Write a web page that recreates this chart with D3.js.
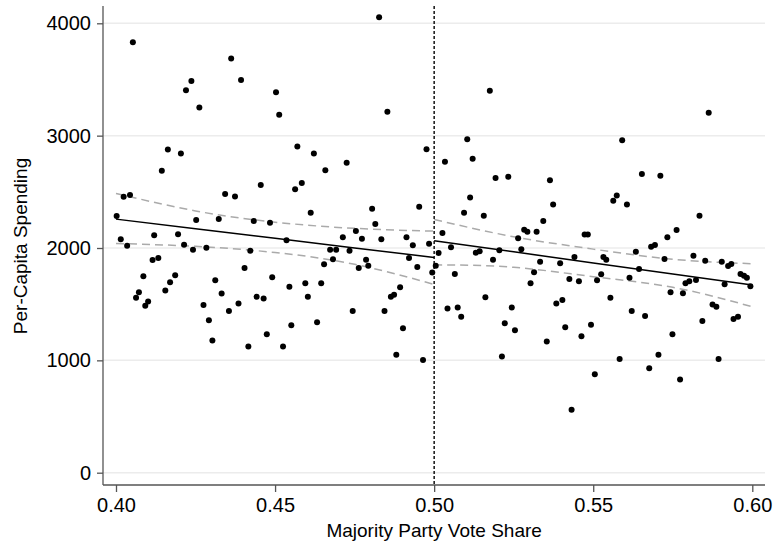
<html>
<head>
<meta charset="utf-8" />
<script src="https://cdn.jsdelivr.net/npm/d3@7/dist/d3.min.js"></script>
<style>
body { margin: 0; background: #fff; }
svg text { font-family: "Liberation Sans", Arial, Helvetica, sans-serif; fill: #000; }
</style>
</head>
<body>
<svg id="chart" width="776" height="546"></svg>
<script>

// vote share / per-capita spending, below the 0.50 cutoff
var leftShare = [0.4053,0.4237,0.4220,0.4262,0.4163,0.4204,0.4144,0.4024,0.4044,0.4002,0.4252,0.4015,0.4035,0.4120,0.4195,0.4214,0.4242,0.4284,0.4312,0.4115,0.4133,0.4086,0.4186,0.4170,0.4155,0.4072,0.4063,0.4101,0.4092,0.4275,0.4292,0.4303,
  0.4362,0.4393,0.4503,0.4513,0.4570,0.4622,0.4658,0.4455,0.4563,0.4584,0.4343,0.4374,0.4612,0.4323,0.4433,0.4484,0.4536,0.4422,0.4654,0.4404,0.4491,0.4545,0.4595,0.4645,0.4332,0.4603,0.4442,0.4464,0.4385,0.4355,0.4632,0.4551,0.4474,0.4416,0.4525,
  0.4827,0.4853,0.4976,0.4725,0.4805,0.4953,0.4815,0.4754,0.4713,0.4773,0.4834,0.4913,0.4933,0.4984,0.4673,0.4692,0.4734,0.4682,0.4786,0.4763,0.4793,0.4921,0.4947,0.4994,0.4893,0.4874,0.4864,0.4744,0.4844,0.4902,0.4881,0.4965];
var leftSpend = [3831,3487,3404,3250,2877,2841,2687,2456,2471,2284,2249,2077,2021,2113,2122,2030,1985,2003,1713,1893,1911,1748,1757,1695,1621,1606,1558,1523,1487,1493,1357,1176,
  3686,3496,3387,3185,2904,2841,2693,2560,2524,2578,2480,2459,2314,2258,2240,2225,2068,1976,1856,1822,1739,1656,1686,1686,1594,1567,1567,1550,1505,1440,1339,1313,1233,1123,1123,
  4053,3212,2880,2758,2350,2367,2213,2151,2095,2083,2077,2095,2024,2038,1985,1985,1976,1900,1896,1822,1843,1911,1831,1781,1650,1585,1567,1440,1440,1286,1049,1004];

// above the cutoff
var rightShare = [0.5005,0.5014,
  0.5175,0.5104,0.5121,0.5034,0.5193,0.5233,0.5113,0.5094,0.5156,0.5026,0.5343,0.5283,0.5293,0.5322,0.5264,0.5053,0.5131,0.5143,0.5205,0.5274,0.5185,0.5333,0.5314,0.5065,0.5303,0.5161,0.5042,0.5074,0.5085,0.5244,0.5222,0.5254,0.5213,0.5354,
  0.5591,0.5653,0.5364,0.5374,0.5563,0.5574,0.5606,0.5473,0.5483,0.5634,0.5682,0.5694,0.5441,0.5532,0.5541,0.5396,0.5644,0.5525,0.5425,0.5455,0.5512,0.5614,0.5554,0.5384,0.5403,0.5621,0.5663,0.5412,0.5493,0.5463,0.5583,0.5676,0.5505,0.5432,
  0.5863,0.5711,0.5834,0.5762,0.5733,0.5724,0.5815,0.5852,0.5904,0.5924,0.5934,0.5963,0.5974,0.5983,0.5994,0.5790,0.5802,0.5823,0.5913,0.5743,0.5782,0.5875,0.5887,0.5843,0.5941,0.5955,0.5749,0.5705,0.5894,0.5773];
var rightSpend = [1842,1955,
  3399,2969,2794,2767,2622,2634,2450,2314,2287,2133,2240,2163,2145,2145,2086,2006,1958,1970,1979,1988,1896,1877,1784,1769,1686,1561,1461,1470,1387,1470,1330,1268,1034,1167,
  2960,2658,2604,2388,2421,2468,2388,2121,2121,1967,2012,2026,1920,1920,1896,1864,1812,1766,1725,1704,1713,1736,1558,1505,1538,1440,1394,1295,1316,1215,1013,930,877,560,
  3203,2643,2287,2160,2095,1902,1932,1887,1878,1840,1857,1769,1754,1736,1659,1686,1704,1716,1677,1606,1597,1496,1476,1351,1369,1387,1233,1049,1013,830];

// fitted lines and 95% bands
var leftBandX  = [0.40, 0.425, 0.45, 0.475, 0.50];
var leftFit    = [2257, 2172, 2087, 2001, 1916];
var leftUpper  = [2486, 2330, 2230, 2175, 2150];
var leftLower  = [2040, 2015, 1960, 1855, 1676];
var rightBandX = [0.50, 0.525, 0.55, 0.575, 0.60];
var rightFit   = [2064, 1966, 1867, 1769, 1670];
var rightUpper = [2254, 2100, 1990, 1900, 1860];
var rightLower = [1850, 1828, 1745, 1650, 1477];

var xTicks = [0.40, 0.45, 0.50, 0.55, 0.60];
var yTicks = [0, 1000, 2000, 3000, 4000];
var cutoff = 0.50;

var svg = d3.select("#chart");
var axisX = 103, axisY = 485, plotRight = 765, plotTop = 6;

var x = d3.scaleLinear().domain([0.40, 0.60]).range([116, 752.3]);
var y = d3.scaleLinear().domain([0, 4000]).range([472.7, 23.3]);

// grid
svg.append("g").selectAll("line")
  .data(yTicks).enter().append("line")
  .attr("x1", axisX).attr("x2", plotRight)
  .attr("y1", d => y(d)).attr("y2", d => y(d))
  .attr("stroke", "#ececec").attr("stroke-width", 1.5);

function drawFit(xs, fitV, up, lo) {
  var g = svg.append("g").attr("fill", "none");
  var curve = d3.line().curve(d3.curveNatural).x((d, i) => x(xs[i])).y(d => y(d));
  [lo, up].forEach(function(arr) {
    g.append("path")
      .attr("d", curve(arr))
      .attr("stroke", "#aaaaaa").attr("stroke-width", 1.5)
      .attr("stroke-dasharray", "8,5");
  });
  g.append("path")
    .attr("d", d3.line().x((d, i) => x(xs[i])).y(d => y(d))(fitV))
    .attr("stroke", "#000").attr("stroke-width", 1.5);
}
drawFit(leftBandX, leftFit, leftUpper, leftLower);
drawFit(rightBandX, rightFit, rightUpper, rightLower);

// points
var pts = leftShare.map((v, i) => [v, leftSpend[i]])
  .concat(rightShare.map((v, i) => [v, rightSpend[i]]));
svg.append("g").selectAll("circle")
  .data(pts).enter().append("circle")
  .attr("cx", d => x(d[0])).attr("cy", d => y(d[1]))
  .attr("r", 3).attr("fill", "#000");

// cutoff line
svg.append("line")
  .attr("x1", x(cutoff)).attr("x2", x(cutoff))
  .attr("y1", plotTop).attr("y2", axisY)
  .attr("stroke", "#000").attr("stroke-width", 1.4)
  .attr("stroke-dasharray", "3,2");

// axes
svg.append("line").attr("x1", axisX).attr("x2", axisX)
  .attr("y1", plotTop).attr("y2", axisY)
  .attr("stroke", "#555").attr("stroke-width", 1.3);
svg.append("line").attr("x1", axisX).attr("x2", plotRight)
  .attr("y1", axisY).attr("y2", axisY)
  .attr("stroke", "#555").attr("stroke-width", 1.3);

var gy = svg.append("g").attr("transform", "translate(" + axisX + ",0)")
  .call(d3.axisLeft(y).tickValues(yTicks).tickSize(6).tickPadding(6).tickFormat(d3.format("d")));
var gx = svg.append("g").attr("transform", "translate(0," + axisY + ")")
  .call(d3.axisBottom(x).tickValues(xTicks).tickSize(7).tickPadding(6).tickFormat(d3.format(".2f")));
[gy, gx].forEach(function(g) {
  g.select(".domain").remove();
  g.selectAll(".tick line").attr("stroke", "#555").attr("stroke-width", 1.3);
  g.selectAll(".tick text").style("font-size", "20px").attr("fill", "#000");
});

// titles
svg.append("text")
  .attr("x", x(cutoff)).attr("y", 537)
  .attr("text-anchor", "middle").style("font-size", "19px")
  .text("Majority Party Vote Share");
svg.append("text")
  .attr("transform", "translate(27,246) rotate(-90)")
  .attr("text-anchor", "middle").style("font-size", "19px")
  .text("Per-Capita Spending");

</script>
</body>
</html>
